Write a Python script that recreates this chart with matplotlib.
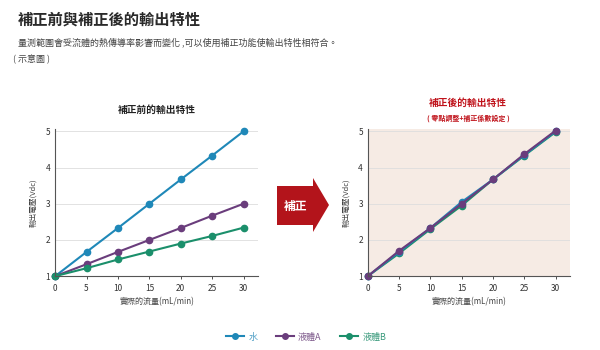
import matplotlib.pyplot as plt
from matplotlib.patches import Polygon
from matplotlib.lines import Line2D

plt.rcParams['font.family'] = ['Noto Sans CJK TC', 'DejaVu Sans']

flow = [0, 5, 10, 15, 20, 25, 30]

# before correction
water_before = [1.0, 1.67, 2.33, 3.0, 3.67, 4.33, 5.0]
liquid_a_before = [1.0, 1.33, 1.67, 2.0, 2.33, 2.67, 3.0]
liquid_b_before = [1.0, 1.22, 1.46, 1.68, 1.9, 2.11, 2.34]

# after correction
water_after = [1.0, 1.67, 2.33, 3.05, 3.67, 4.35, 5.0]
liquid_a_after = [1.0, 1.70, 2.33, 3.0, 3.67, 4.37, 5.02]
liquid_b_after = [1.0, 1.63, 2.30, 2.95, 3.67, 4.33, 4.98]

names = ['水', '液體A', '液體B']
colors = ['#1f88b8', '#6a3d7c', '#1b8f6b']
legend_text = ['#4a9cc4', '#7e5a8c', '#3a9a7c']

x_ticks = [0, 5, 10, 15, 20, 25, 30]
y_ticks = [1, 2, 3, 4, 5]

fig = plt.figure(figsize=(6, 3.5), dpi=100)

fig.text(0.03, 0.945, '補正前與補正後的輸出特性', fontsize=11, fontweight='bold',
         color='#2a2a2a', va='center')
fig.text(0.03, 0.88, '量測範圍會受流體的熱傳導率影響而變化 ,可以使用補正功能使輸出特性相符合。',
         fontsize=6.5, color='#444444', va='center')
fig.text(0.022, 0.83, '( 示意圖 )', fontsize=6.5, color='#444444', va='center')


def style_axes(ax, bg):
    ax.set_facecolor(bg)
    ax.set_xlim(0, 32.3)
    ax.set_ylim(1, 5.06)
    ax.set_xticks(x_ticks)
    ax.set_yticks(y_ticks)
    ax.grid(axis='y', color='#dddddd', linewidth=0.6)
    ax.set_axisbelow(True)
    for s in ['top', 'right']:
        ax.spines[s].set_visible(False)
    for s in ['left', 'bottom']:
        ax.spines[s].set_color('#555555')
        ax.spines[s].set_linewidth(0.8)
    ax.tick_params(labelsize=6, colors='#333333', length=2, width=0.6)
    ax.tick_params(axis='y', length=0)
    ax.set_xlabel('實際的流量(mL/min)', fontsize=5.8, color='#444444', labelpad=3)
    ax.set_ylabel('輸出電壓(Vdc)', fontsize=5.5, color='#444444', labelpad=6)


ax1 = fig.add_axes([0.092, 0.211, 0.338, 0.42])
style_axes(ax1, 'white')
for ys, c in zip([water_before, liquid_a_before, liquid_b_before], colors):
    ax1.plot(flow, ys, color=c, lw=1.5, marker='o', ms=4.5, clip_on=False)
ax1.set_title('補正前的輸出特性', fontsize=7, fontweight='bold', color='#222222', pad=12)

ax2 = fig.add_axes([0.613, 0.211, 0.337, 0.42])
style_axes(ax2, '#f6ebe4')
for ys, c in zip([liquid_b_after, water_after, liquid_a_after],
                 [colors[2], colors[0], colors[1]]):
    ax2.plot(flow, ys, color=c, lw=1.5, marker='o', ms=4.5, clip_on=False)
fig.text(0.78, 0.705, '補正後的輸出特性', fontsize=7, fontweight='bold',
         color='#c0141c', ha='center', va='center')
fig.text(0.78, 0.662, '( 零點調整+補正係數設定 )', fontsize=5, fontweight='bold',
         color='#c0141c', ha='center', va='center')

# arrow between the two charts
arrow = Polygon([(277 / 600, 1 - 186 / 350), (313 / 600, 1 - 186 / 350),
                 (313 / 600, 1 - 178 / 350), (329 / 600, 1 - 205 / 350),
                 (313 / 600, 1 - 232 / 350), (313 / 600, 1 - 225 / 350),
                 (277 / 600, 1 - 225 / 350)],
                closed=True, transform=fig.transFigure, facecolor='#b3141b',
                edgecolor='none')
fig.add_artist(arrow)
fig.text(296 / 600, 1 - 206 / 350, '補正', fontsize=8.5, fontweight='bold',
         color='white', ha='center', va='center')

handles = [Line2D([], [], color=c, lw=1.5, marker='o', ms=4) for c in colors]
leg = fig.legend(handles, names, loc='center', bbox_to_anchor=(0.51, 0.037),
                 ncol=3, frameon=False, fontsize=6.5, handlelength=2,
                 columnspacing=2, handletextpad=0.5)
for t, c in zip(leg.get_texts(), legend_text):
    t.set_color(c)

fig.savefig('out.png', dpi=100)
